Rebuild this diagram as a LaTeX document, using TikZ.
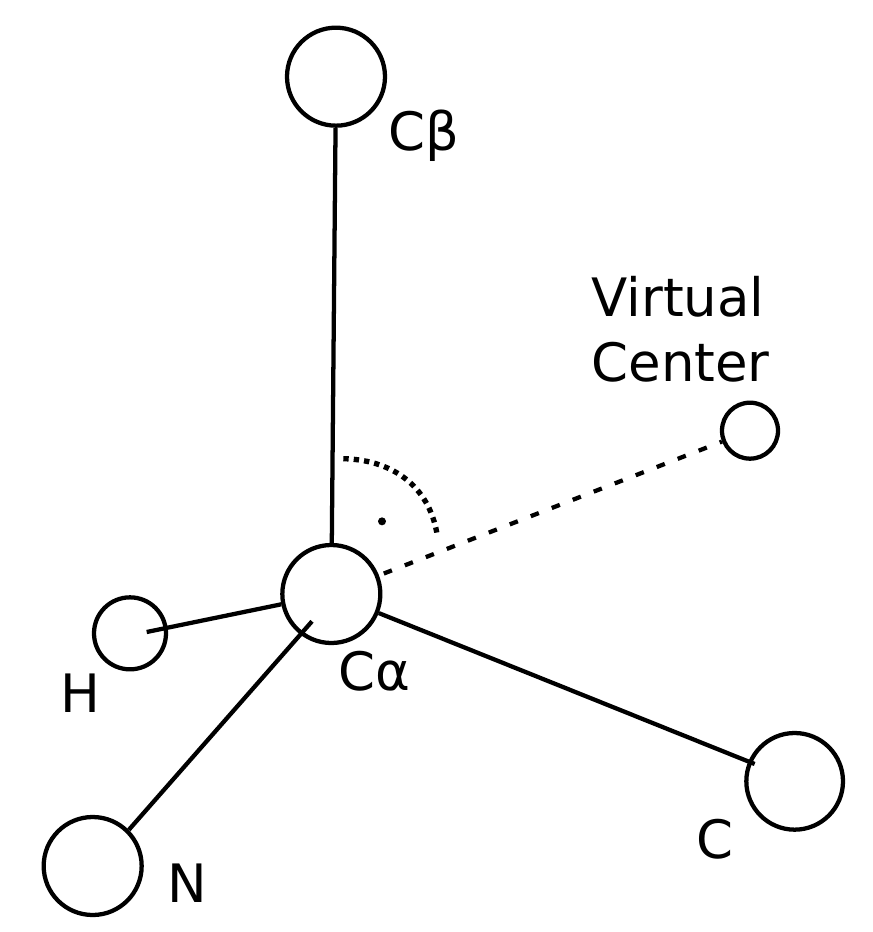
\documentclass[tikz,border=0pt]{standalone}
\usepackage{fontspec}
\setmainfont{DejaVu Sans}
\begin{document}
\begin{tikzpicture}[x=1pt,y=-1pt,
  atom/.style={circle,draw=black,line width=3.2pt,fill=none,inner sep=0pt},
  bond/.style={line width=3.2pt,draw=black},
  lab/.style={font=\fontsize{39.7}{48}\selectfont,inner sep=0pt,text=black}]
\useasboundingbox (0,0) rectangle (654,699);
\node[atom,minimum size=73.5pt] (cb) at (252,57.5) {};
\node[atom,minimum size=73.5pt] (ca) at (248.5,445.5) {};
\node[atom,minimum size=54pt] (h) at (97.5,475) {};
\node[atom,minimum size=73.5pt] (n) at (69.5,649.5) {};
\node[atom,minimum size=72.5pt] (c) at (596,586) {};
\node[atom,minimum size=42pt] (vc) at (562.5,323) {};
\coordinate (hend) at (110,474);
\coordinate (nend) at (234,466);
\coordinate (cend) at (566,573);
\draw[bond] (cb) -- (ca);
\draw[bond] (ca) -- (hend);
\draw[bond] (n.45) -- (nend);
\draw[bond] (ca) -- (cend);
\draw[bond,dash pattern=on 6.5pt off 10.4pt,dash phase=13pt] (ca) -- (vc);
\coordinate (a1) at (257.5,344);
\coordinate (a2) at (328,402);
\draw[line width=4pt,dash pattern=on 4pt off 3.8pt] (a1) .. controls (298,345) and (323,368) .. (a2);
\node[circle,fill=black,inner sep=0pt,minimum size=6pt] (dot) at (286.5,391) {};
\node[lab,anchor=base west] (lb) at (291,113) {Cβ};
\node[lab,anchor=base west] (lv) at (443.5,237) {Virtual};
\node[lab,anchor=base west] (lc2) at (443.5,286) {Center};
\node[lab,anchor=base west] (la) at (254,518) {Cα};
\node[lab,anchor=base west] (lh) at (45.5,534) {H};
\node[lab,anchor=base west] (ln) at (125.5,677) {N};
\node[lab,anchor=base west] (lc) at (522,644) {C};
\end{tikzpicture}
\end{document}
